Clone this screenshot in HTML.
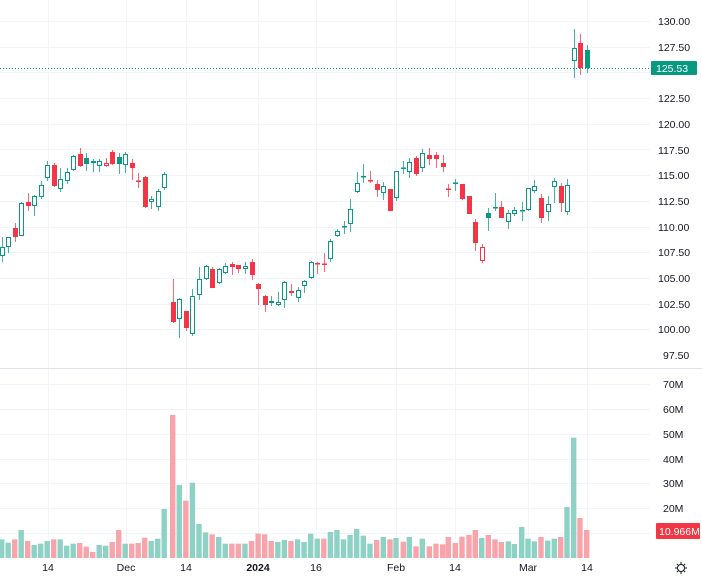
<!DOCTYPE html>
<html><head><meta charset="utf-8"><style>
html,body{margin:0;padding:0;background:#fff;width:702px;height:578px;overflow:hidden}
svg{display:block}
text{font-family:"Liberation Sans",sans-serif;font-size:10.5px;fill:#131722}
</style></head><body>
<svg id="s" width="702" height="578" viewBox="0 0 702 578">
<g id="grid" stroke="#f2f4f9" stroke-width="1"></g>
<line x1="0" y1="368.5" x2="702" y2="368.5" stroke="#e0e3eb"/>
<g id="vol"></g>
<g id="cand"></g>
<line x1="0" y1="68.5" x2="652" y2="68.5" stroke="#089981" stroke-dasharray="1,2"/>
<g text-anchor="start">
<text x="658" y="25">130.00</text>
<text x="658" y="51">127.50</text>
<text x="658" y="102">122.50</text>
<text x="658" y="128">120.00</text>
<text x="658" y="154">117.50</text>
<text x="658" y="179">115.00</text>
<text x="658" y="205">112.50</text>
<text x="658" y="231">110.00</text>
<text x="658" y="256">107.50</text>
<text x="658" y="282">105.00</text>
<text x="658" y="308">102.50</text>
<text x="658" y="333">100.00</text>
<text x="663" y="359">97.50</text>
<text x="663" y="388">70M</text>
<text x="663" y="413">60M</text>
<text x="663" y="438">50M</text>
<text x="663" y="463">40M</text>
<text x="663" y="487">30M</text>
<text x="663" y="512">20M</text>
</g>
<rect x="651" y="61" width="46" height="14" rx="1" fill="#089981"/>
<text x="656" y="72" style="fill:#fff">125.53</text>
<rect x="656" y="523" width="44" height="16" rx="1" fill="#f23645"/>
<text x="659" y="535" style="fill:#fff">10.966M</text>
<g text-anchor="middle">
<text x="48" y="571">14</text>
<text x="126" y="571">Dec</text>
<text x="186" y="571">14</text>
<text x="258" y="571" style="font-weight:bold">2024</text>
<text x="316" y="571">16</text>
<text x="396" y="571">Feb</text>
<text x="455" y="571">14</text>
<text x="528" y="571">Mar</text>
<text x="587" y="571">14</text>
</g>
<g transform="translate(681,568)" stroke="#131722" fill="none" stroke-width="1">
<circle r="3.5"/>
<path d="M0,-6V-4M0,4V6M-6,0H-4M4,0H6M-4.2,-4.2L-2.8,-2.8M2.8,2.8L4.2,4.2M-4.2,4.2L-2.8,2.8M2.8,-2.8L4.2,-4.2"/>
</g>
</svg>
<script>
(function(){
var NS="http://www.w3.org/2000/svg";
function el(p,t,a){var e=document.createElementNS(NS,t);for(var k in a)e.setAttribute(k,a[k]);p.appendChild(e);return e;}
var grid=document.getElementById('grid'),i;
for(i=0;i<13;i++){var y=Math.round(21+i*25.69)+0.5;el(grid,'line',{x1:0,x2:650,y1:y,y2:y});}
[384,409,434,459,483,508,533].forEach(function(y){el(grid,'line',{x1:0,x2:650,y1:y+.5,y2:y+.5});});
[48,126,186,258,316,396,455,528,587].forEach(function(x){el(grid,'line',{x1:x+.5,x2:x+.5,y1:0,y2:558});});
var C=[
[237,262,247,256,'g',0],[237,253,237,247,'g',0],[223,242,228,237,'r',1],[202,236,203,236,'g',0],[193,211,202,206,'r',1],
[195,216,196,206,'g',0],[181,199,185,197,'g',0],[161,181,165,178,'g',0],[163,187,165,186,'r',1],[168,192,179,189,'g',0],
[168,184,172,181,'g',0],[155,171,156,170,'g',0],[148,167,154,166,'r',1],[153,171,158,164,'g',1],[159,172,161,163,'g',1],
[159,172,161,166,'g',0],[158,167,163,166,'r',0],[150,165,152,164,'r',1],[153,174,157,164,'g',1],[152,173,154,165,'g',0],
[159,180,163,168,'r',1],[173,188,180.5,181.5,'r',1],[176,208,177,207,'r',1],[196,209,199,202,'g',0],[189,211,191,207,'g',0],
[172,190,174,188,'g',0],
[279,323,302,322,'r',1],[298,338,299,319,'g',0],[311,331,311,328,'r',1],[289,336,296,334,'g',0],[267,300,279,295,'g',0],
[265,280,266,279,'g',0],[267,288,269,288,'r',1],[268,284,269,283,'g',0],[263,274,266,273,'g',0],[262,275,264,267,'r',1],
[265,273,265,269,'r',1],[262,274,266,269,'g',0],[259,280,262,275,'r',1],[283,305,284,289,'r',1],[295,312,296,305,'r',1],
[296,306,301,303,'g',1],[292,306,302,305,'g',0],[281,308,282,300,'g',0],[284,296,291,293,'r',1],[287,302,290,298,'g',0],
[280,293,281,286,'g',0],[261,279,262,278,'g',0],[262,274,263,264.5,'r',0],[253,272,263.5,264.5,'r',1],[239,262,241,259,'g',0],
[229,237,231,236,'g',0],[221,234,226,227.5,'g',1],[199,232,209,224,'g',0],[172,193,183,192,'g',0],
[164,183,176,177.5,'g',1],[171,183,180,181.5,'r',1],[180,197,184,190,'r',1],[182,200,186,193,'g',0],[189,211,189,211,'r',1],
[171,201,171,198,'g',0],[161,174,167.5,169,'g',1],[158,178,162,172,'g',0],[156,176,158,174,'r',1],[149,172,153,168,'g',0],
[148,165,155,159,'r',1],[152,168,155,159,'r',1],[155,172,163,167,'r',1],[184,197,188.5,190,'r',1],[179,191,182.5,184,'g',1],
[184,200,184,199,'r',1],[196,214,196,214,'r',1],[219,251,222,243,'r',1],[244,263,247,261,'r',0],[208,231,213,218,'g',1],
[193,211,207,208.5,'g',1],[201,218,207,218,'r',1],[210,229,213,222,'g',0],[207,216,210,214,'g',0],[202,221,210,211.5,'g',1],
[188,211,188,210,'g',0],[180,193,186,191,'g',0],[194,223,198,218,'r',1],[196,221,204,212,'g',0],[178,203,181,187,'g',0],
[183,212,186,203,'r',1],[179,215,185,212,'g',0],
[29,78,48,61,'g',0],[34,75,43,68,'r',1],[45,73,50,68,'g',1]];
var X=[];
for(i=0;i<26;i++)X.push(1.7+6.5*i);
for(i=26;i<55;i++)X.push(172.7+6.57*(i-26));
[363.3,370,376.7,383.3,390,396,403.3,409.3,416,422.3,429.3,436,442.7,448.3,455.3,462,469,475.3,481.7,488.3,495,501.3,508.3,514.3,521.7,528,534.3,541,547.7,554.3,560.7,567,573.7,580,586.7].forEach(function(v){X.push(v);});
var V=[418,428,418,390,423,435,431,423,418,418,437,431,429,440,456,435,437,426,390,431,431,429,413,423,416,327,45,255,302,248,372,397,403,411,431,431,431,431,423,401,403,423,426,420,423,418,426,401,416,416,396,390,418,405,
387,407,431,420,411,418,414,425,411,439,416,439,431,433,411,429,410,405,390,414,405,418,426,424,432,381,416,424,411,422,416,411,321,113,354,390];
var VC="GGRGRGGGRGGGRRRGGRRGRRRGGGRGRGGGRGGRRGRRRRGGRGGGGRGGGG"+"GGGRGRGRGRGRRRRRRRRGRRRGGGGGRGGRGGRR";
var vg=document.getElementById('vol'),cg=document.getElementById('cand');
for(i=0;i<V.length&&i<X.length;i++){
  var vt=400+V[i]/3;
  el(vg,'rect',{x:X[i]-2.7,y:vt,width:5.4,height:558-vt,fill:VC.charAt(i)=='G'?'#8ed2c6':'#f9a4ab'});
}
for(i=0;i<C.length;i++){
  var c=C[i],x=X[i],col=c[4]=='g'?'#089981':'#f23645';
  var xx=Math.round(x)+0.5;
  el(cg,'line',{x1:xx,x2:xx,y1:c[0],y2:c[1],stroke:col,'stroke-width':1,'stroke-opacity':0.75});
  var h=Math.max(c[3]-c[2],1.5);
  if(c[5]) el(cg,'rect',{x:xx-2.5,y:c[2],width:5,height:h,fill:col});
  else el(cg,'rect',{x:xx-2,y:c[2]+0.5,width:4,height:Math.max(h-1,0.5),fill:'#fff',stroke:col,'stroke-width':1});
}
})();
</script>
</body></html>
